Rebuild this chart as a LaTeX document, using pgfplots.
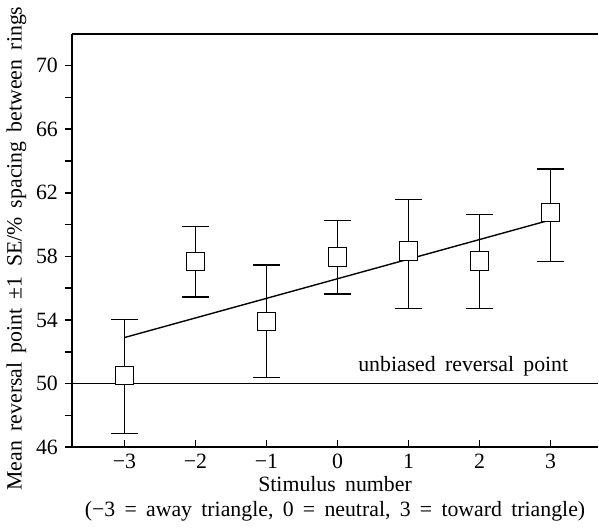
\documentclass[border=0pt]{standalone}
\usepackage{pgfplots}
\usepackage{pgfplotstable}
\pgfplotsset{compat=1.18}
\usepackage{fontspec}
\setmainfont[WordSpace=1.7]{Liberation Serif}

% stimulus, mean, +SE, -SE
\pgfplotstableread{
x   y      ep    em
-3  50.50  3.53  3.65
-2  57.67  2.20  2.21
-1  53.90  3.57  3.50
0   57.97  2.30  2.33
1   58.34  3.26  3.63
2   57.72  2.92  3.01
3   60.77  2.73  3.10
}\means

\begin{document}
\begin{tikzpicture}
\begin{axis}[
    scale only axis,
    width=265.5pt, height=208.5pt,
    xmin=-3.74, xmax=3.67,
    ymin=46, ymax=72,
    axis lines*=left,
    axis line style={line width=0.8pt},
    xtick={-3,-2,-1,0,1,2,3},
    xticklabels={−3,−2,−1,0,1,2,3},
    ytick={46,50,54,58,62,66,70},
    yticklabels={46,50,54,58,62,66,70},
    minor ytick={48,52,56,60,64,68},
    major tick length=3.5pt, minor tick length=3.5pt,
    tick style={line width=0.8pt, black},
    xtick align=inside,
    ytick align=outside,
    tick label style={font=\fontsize{11}{13}\selectfont},
    label style={font=\fontsize{11}{12.5}\selectfont},
    xlabel={Stimulus number\\(−3 = away triangle, 0 = neutral, 3 = toward triangle)},
    xlabel style={align=center, yshift=3pt},
    ylabel={Mean reversal point ±1 SE/\% spacing between rings},
    ylabel style={yshift=-2pt, xshift=-4pt},
    clip=false,
]
% top border
\draw[line width=0.8pt] (rel axis cs:0,1) -- (rel axis cs:1,1);

% unbiased reversal point
\addplot[black, line width=0.7pt] coordinates {(-3.74,50) (3.67,50)};
\node[font=\fontsize{11}{13}\selectfont] at (axis cs:1.77,51.1) {unbiased reversal point};

% regression line
\addplot[black, line width=0.7pt] coordinates {(-3,52.9) (3,60.3)};

% means with error bars
\addplot[black, line width=0.7pt, only marks, mark=square*,
    mark options={fill=white, draw=black, line width=0.5pt},
    mark size=4.6pt,
    error bars/.cd, y dir=both, y explicit,
    error bar style={line width=0.7pt},
    error mark options={line width=0.7pt, mark size=6.75pt, rotate=90}]
table[x=x, y=y, y error plus=ep, y error minus=em] {\means};
\end{axis}
\end{tikzpicture}
\end{document}
